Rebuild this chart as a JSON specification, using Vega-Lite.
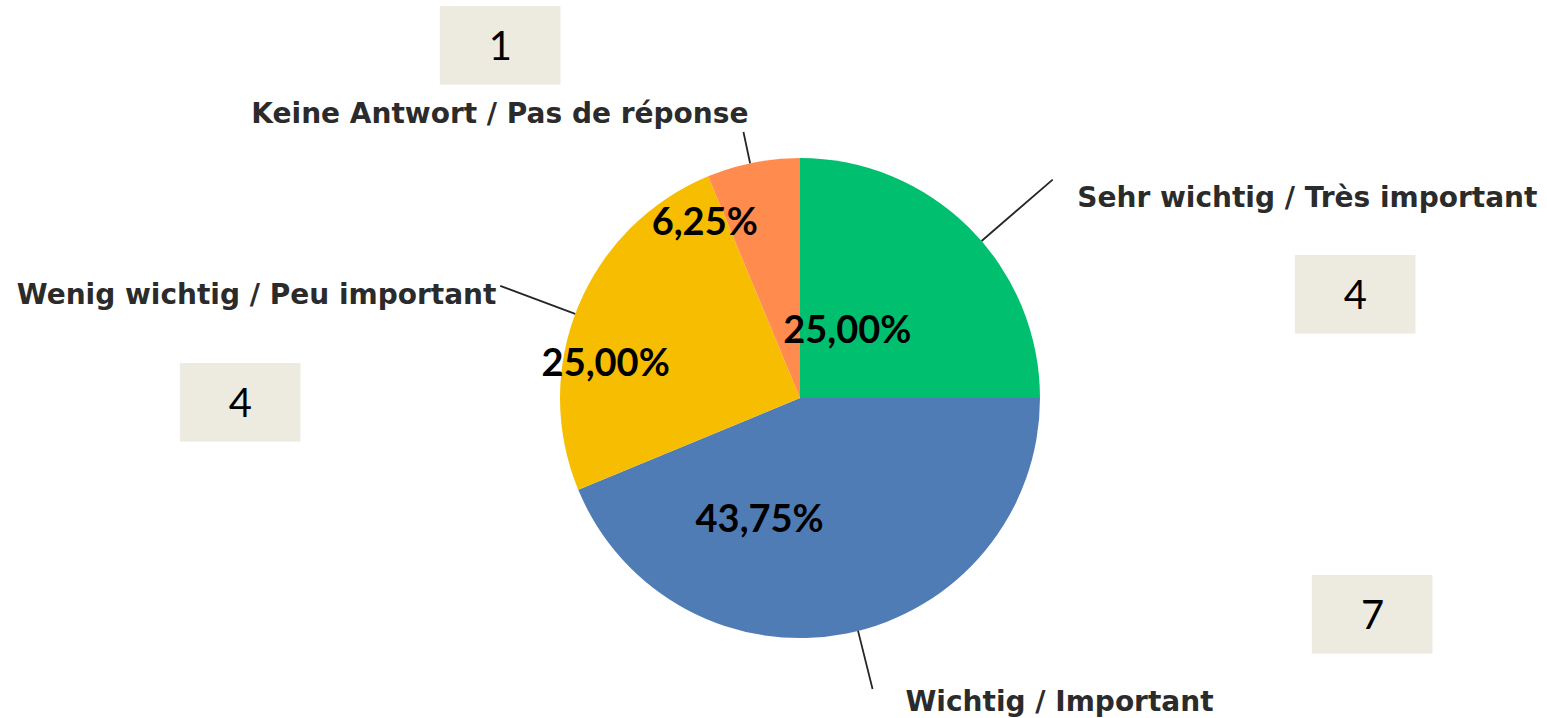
{
  "$schema": "https://vega.github.io/schema/vega-lite/v6.json",
  "width": 1494,
  "height": 640,
  "autosize": {"type": "none"},
  "padding": {"left": 53, "top": 78, "right": 0, "bottom": 0},
  "background": "white",
  "config": {"view": {"stroke": null}},
  "data": {
    "values": [
      {"cat": "Sehr wichtig / Très important", "count": 4, "pct": "25,00%", "order": 1},
      {"cat": "Wichtig / Important", "count": 7, "pct": "43,75%", "order": 2},
      {"cat": "Wenig wichtig / Peu important", "count": 4, "pct": "25,00%", "order": 3},
      {"cat": "Keine Antwort / Pas de réponse", "count": 1, "pct": "6,25%", "order": 4}
    ]
  },
  "encoding": {
    "theta": {"field": "count", "type": "quantitative", "stack": true},
    "order": {"field": "order", "type": "quantitative"}
  },
  "layer": [
    {
      "mark": {"type": "arc", "outerRadius": 240},
      "encoding": {
        "color": {
          "field": "cat",
          "type": "nominal",
          "scale": {
            "domain": ["Sehr wichtig / Très important", "Wichtig / Important", "Wenig wichtig / Peu important", "Keine Antwort / Pas de réponse"],
            "range": ["#00BF6F", "#507CB6", "#F7BD00", "#FF8B4F"]
          },
          "legend": null
        }
      }
    },
    {
      "encoding": {"opacity": {"condition": {"test": "datum.cat === 'Sehr wichtig / Très important'", "value": 1}, "value": 0}},
      "layer": [
        {
          "transform": [{"stack": "count", "groupby": [], "sort": [{"field": "order", "order": "ascending"}], "as": ["t0", "t1"]}],
          "mark": {"type": "arc", "filled": false, "stroke": "#262626", "strokeWidth": 1.8, "innerRadius": 240, "outerRadius": 334, "thetaOffset": 0.858, "theta2Offset": 0.858},
          "encoding": {"theta": {"field": "t0", "type": "quantitative", "stack": null}, "theta2": {"field": "t0"}}
        },
        {"mark": {"type": "text", "radius": 81, "dx": -10, "dy": -9, "font": "Lato", "fontWeight": "bold", "fontSize": 38, "color": "black", "align": "center", "baseline": "middle"}, "encoding": {"text": {"field": "pct"}}},
        {"mark": {"type": "text", "radius": 330, "dx": 44, "dy": 42, "font": "DejaVu Sans", "fontWeight": "bold", "fontSize": 28, "color": "#2b2b2b", "align": "left", "baseline": "alphabetic"}, "encoding": {"text": {"field": "cat"}}},
        {"mark": {"type": "text", "radius": 330, "dx": 322, "dy": 132, "font": "DejaVu Sans Mono", "fontSize": 66, "color": "#EDEAE0", "align": "center", "baseline": "middle"}, "encoding": {"text": {"value": "███"}}},
        {"mark": {"type": "text", "radius": 330, "dx": 322, "dy": 132, "font": "Lato", "fontSize": 40, "color": "black", "align": "center", "baseline": "middle"}, "encoding": {"text": {"field": "count"}}}
      ]
    },
    {
      "encoding": {"opacity": {"condition": {"test": "datum.cat === 'Wichtig / Important'", "value": 1}, "value": 0}},
      "layer": [
        {
          "transform": [{"stack": "count", "groupby": [], "sort": [{"field": "order", "order": "ascending"}], "as": ["t0", "t1"]}],
          "mark": {"type": "arc", "filled": false, "stroke": "#262626", "strokeWidth": 1.8, "innerRadius": 240, "outerRadius": 300, "thetaOffset": 1.3265, "theta2Offset": 1.3265},
          "encoding": {"theta": {"field": "t0", "type": "quantitative", "stack": null}, "theta2": {"field": "t0"}}
        },
        {"mark": {"type": "text", "radius": 111, "dx": -62, "dy": 14, "font": "Lato", "fontWeight": "bold", "fontSize": 38, "color": "black", "align": "center", "baseline": "middle"}, "encoding": {"text": {"field": "pct"}}},
        {"mark": {"type": "text", "radius": 310, "dx": 45, "dy": 9, "font": "DejaVu Sans", "fontWeight": "bold", "fontSize": 28, "color": "#2b2b2b", "align": "left", "baseline": "alphabetic"}, "encoding": {"text": {"field": "cat"}}},
        {"mark": {"type": "text", "radius": 310, "dx": 512, "dy": -85, "font": "DejaVu Sans Mono", "fontSize": 66, "color": "#EDEAE0", "align": "center", "baseline": "middle"}, "encoding": {"text": {"value": "███"}}},
        {"mark": {"type": "text", "radius": 310, "dx": 512, "dy": -85, "font": "Lato", "fontSize": 40, "color": "black", "align": "center", "baseline": "middle"}, "encoding": {"text": {"field": "count"}}}
      ]
    },
    {
      "encoding": {"opacity": {"condition": {"test": "datum.cat === 'Wenig wichtig / Peu important'", "value": 1}, "value": 0}},
      "layer": [
        {
          "transform": [{"stack": "count", "groupby": [], "sort": [{"field": "order", "order": "ascending"}], "as": ["t0", "t1"]}],
          "mark": {"type": "arc", "filled": false, "stroke": "#262626", "strokeWidth": 1.8, "innerRadius": 240, "outerRadius": 320, "thetaOffset": 0.7505, "theta2Offset": 0.7505},
          "encoding": {"theta": {"field": "t0", "type": "quantitative", "stack": null}, "theta2": {"field": "t0"}}
        },
        {"mark": {"type": "text", "radius": 193, "dx": -16, "dy": 41, "font": "Lato", "fontWeight": "bold", "fontSize": 38, "color": "black", "align": "center", "baseline": "middle"}, "encoding": {"text": {"field": "pct"}}},
        {"mark": {"type": "text", "radius": 320, "dx": -8, "dy": 28, "font": "DejaVu Sans", "fontWeight": "bold", "fontSize": 28, "color": "#2b2b2b", "align": "right", "baseline": "alphabetic"}, "encoding": {"text": {"field": "cat"}}},
        {"mark": {"type": "text", "radius": 320, "dx": -264, "dy": 129, "font": "DejaVu Sans Mono", "fontSize": 66, "color": "#EDEAE0", "align": "center", "baseline": "middle"}, "encoding": {"text": {"value": "███"}}},
        {"mark": {"type": "text", "radius": 320, "dx": -264, "dy": 129, "font": "Lato", "fontSize": 40, "color": "black", "align": "center", "baseline": "middle"}, "encoding": {"text": {"field": "count"}}}
      ]
    },
    {
      "encoding": {"opacity": {"condition": {"test": "datum.cat === 'Keine Antwort / Pas de réponse'", "value": 1}, "value": 0}},
      "layer": [
        {
          "transform": [{"stack": "count", "groupby": [], "sort": [{"field": "order", "order": "ascending"}], "as": ["t0", "t1"]}],
          "mark": {"type": "arc", "filled": false, "stroke": "#262626", "strokeWidth": 1.8, "innerRadius": 240, "outerRadius": 272, "thetaOffset": 0.1833, "theta2Offset": 0.1833},
          "encoding": {"theta": {"field": "t0", "type": "quantitative", "stack": null}, "theta2": {"field": "t0"}}
        },
        {"mark": {"type": "text", "radius": 191, "dx": -58, "dy": 13, "font": "Lato", "fontWeight": "bold", "fontSize": 38, "color": "black", "align": "center", "baseline": "middle"}, "encoding": {"text": {"field": "pct"}}},
        {"mark": {"type": "text", "radius": 280, "dx": 3, "dy": 0, "font": "DejaVu Sans", "fontWeight": "bold", "fontSize": 28, "color": "#2b2b2b", "align": "right", "baseline": "alphabetic"}, "encoding": {"text": {"field": "cat"}}},
        {"mark": {"type": "text", "radius": 280, "dx": -245, "dy": -75, "font": "DejaVu Sans Mono", "fontSize": 66, "color": "#EDEAE0", "align": "center", "baseline": "middle"}, "encoding": {"text": {"value": "███"}}},
        {"mark": {"type": "text", "radius": 280, "dx": -245, "dy": -75, "font": "Lato", "fontSize": 40, "color": "black", "align": "center", "baseline": "middle"}, "encoding": {"text": {"field": "count"}}}
      ]
    }
  ]
}
